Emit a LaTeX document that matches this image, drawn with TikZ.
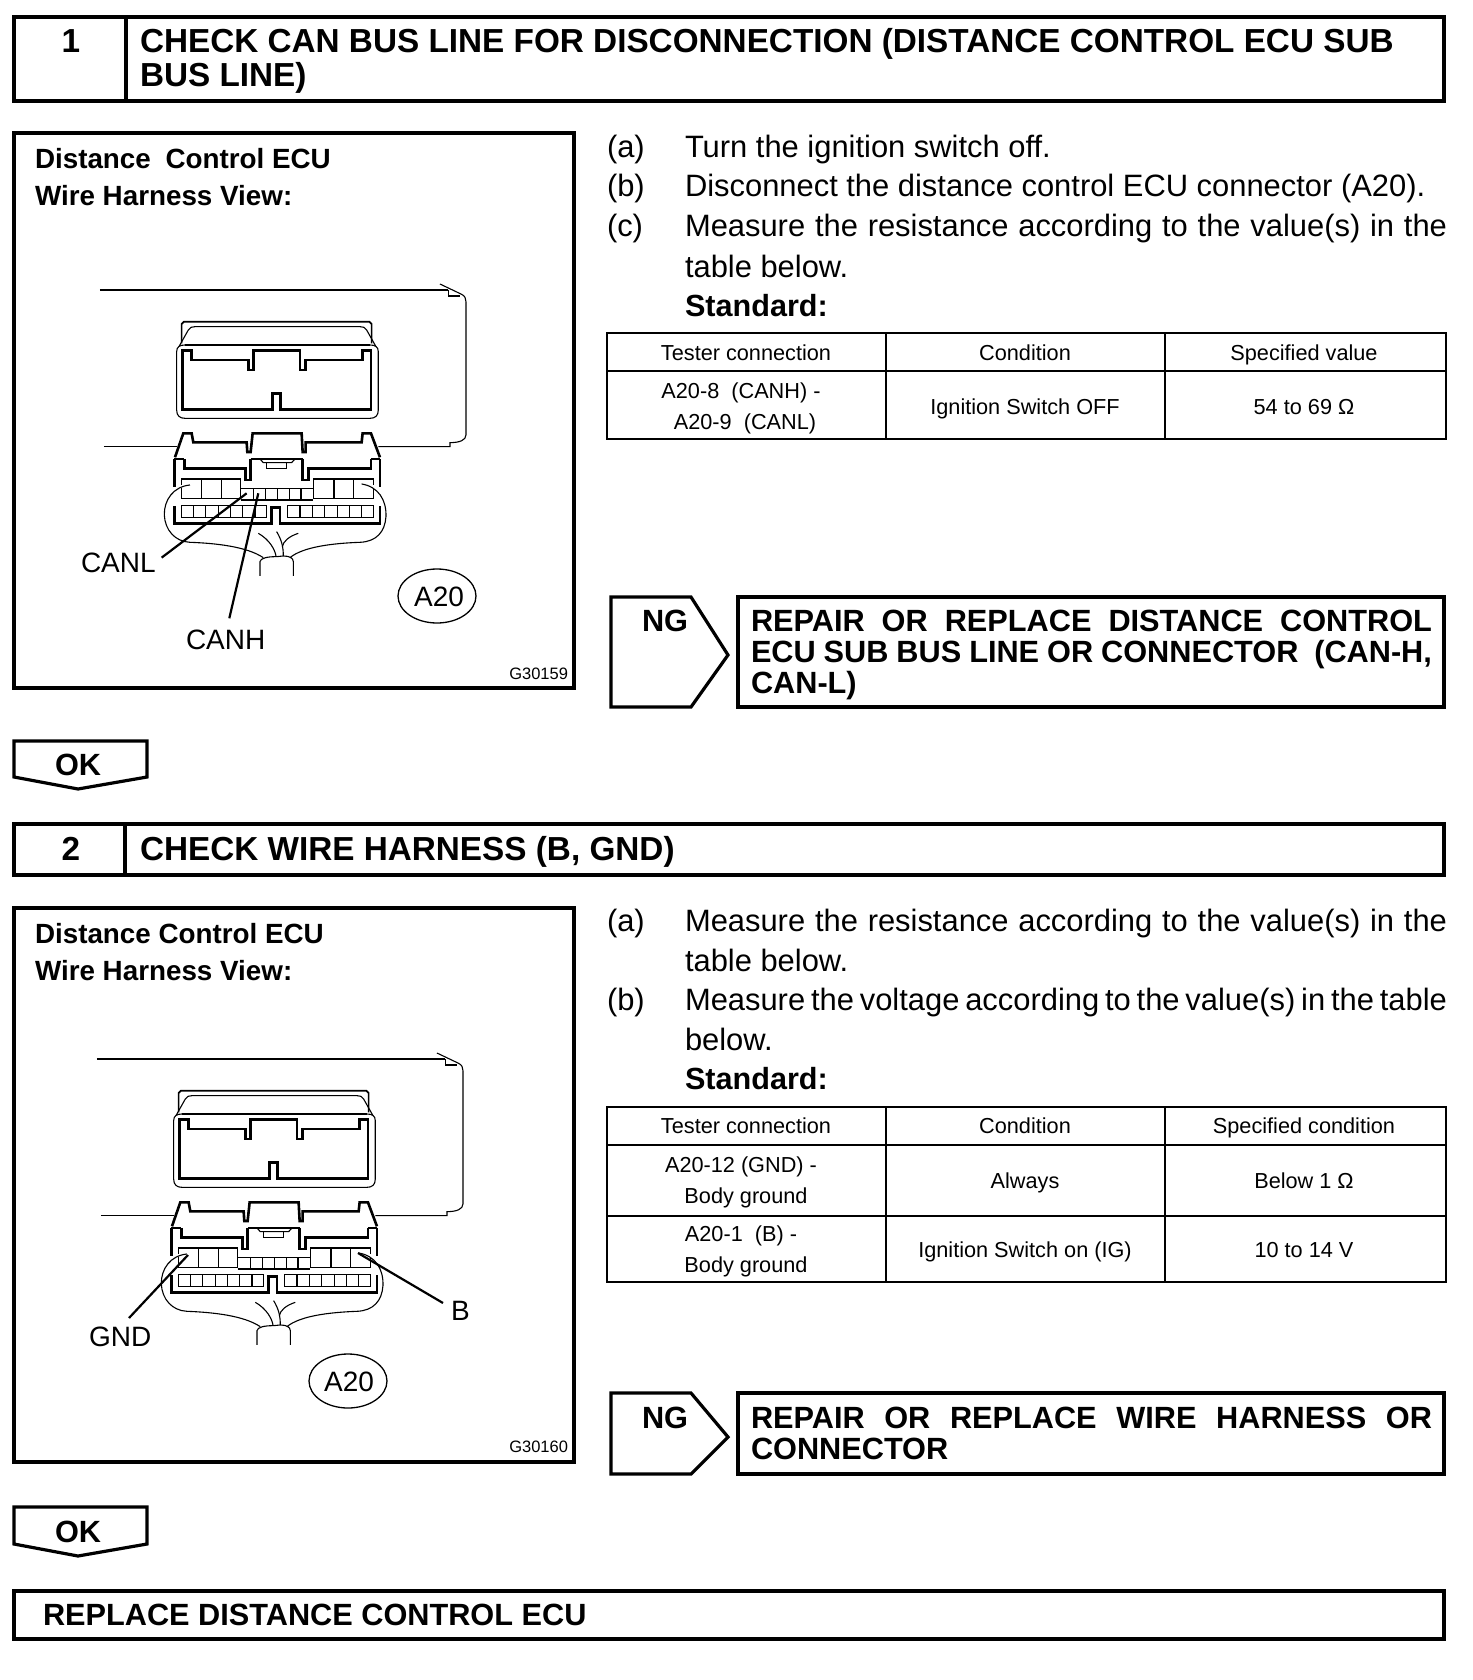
\documentclass[tikz,border=0pt]{standalone}
\usepackage{fontspec}
\usepackage{graphicx}
\setmainfont{Liberation Sans}
\newcommand\fitl[2]{\makebox[#1pt][s]{#2}}
\tikzset{
  base/.style={inner sep=0pt,outer sep=0pt,anchor=base west},
  hdr/.style={base,font=\bfseries\fontsize{33.3}{38}\selectfont},
  numb/.style={base,anchor=base,font=\bfseries\fontsize{33.3}{38}\selectfont},
  ttl/.style={base,font=\bfseries\fontsize{27.8}{32}\selectfont},
  body/.style={base,font=\fontsize{30.9}{36}\selectfont},
  stdh/.style={base,font=\bfseries\fontsize{30.6}{36}\selectfont},
  cell/.style={base,anchor=base,font=\fontsize{21.7}{26}\selectfont},
  res/.style={base,font=\bfseries\fontsize{30.7}{36}\selectfont},
  lab/.style={base,font=\fontsize{28}{34}\selectfont},
  tiny/.style={base,font=\fontsize{16.5}{18}\selectfont},
  frame/.style={draw=black,line width=3.2pt,line join=miter},
  tline/.style={draw=black,line width=2.7pt},
  thin/.style={draw=black,line width=1.1pt},
  thk/.style={draw=black,line width=2.6pt,line join=miter},
  leader/.style={draw=black,line width=2.2pt},
  tagell/.style={draw=black,line width=1.3pt,ellipse,minimum width=78pt,minimum height=54pt,inner sep=0pt}
}
\usetikzlibrary{shapes.geometric}
% connector drawn in the coordinates of a 3x enlargement
\newcommand\plugdrawing{%
  % harness outline
  \draw[thin] (300,90) -- (1345,90);
  \draw[thin] (1320,72) -- (1385,103) .. controls (1395,108) and (1398,115) .. (1398,125) -- (1398,525) .. controls (1398,540) and (1380,548) .. (1350,548) -- (1350,560) -- (1135,560);
  \draw[thin] (1345,90) -- (1345,108) -- (1380,108);
  \draw[thin,line width=1.4pt] (312,560) -- (530,560);
  % plug
  \draw[thin,line width=1.7pt] (545,250) -- (545,192) -- (552,185) -- (1108,185) -- (1115,192) -- (1115,250);
  \draw[thin] (538,258) -- (565,210) .. controls (570,202) and (575,200) .. (585,200) -- (1080,200) .. controls (1090,200) and (1095,202) .. (1100,210) -- (1127,258);
  \draw[thin] (530,275) .. controls (530,260) and (540,255) .. (555,255) -- (1110,255) .. controls (1125,255) and (1135,260) .. (1135,275) -- (1135,450) .. controls (1135,468) and (1125,475) .. (1110,475) -- (555,475) .. controls (540,475) and (530,468) .. (530,450) -- cycle;
  \draw[thin,line width=1.7pt] (555,255) -- (1110,255);
  \draw[thk] (548,272) -- (575,272) -- (575,300) -- (745,300) -- (745,330) -- (760,330) -- (760,272) -- (900,272) -- (900,330) -- (917,330) -- (917,300) -- (1087,300) -- (1087,272) -- (1113,272) -- (1113,448) -- (842,448) -- (842,400) -- (818,400) -- (818,448) -- (548,448) -- cycle;
  % housing
  \draw[thk] (525,592) -- (550,520) -- (575,520) -- (580,547) -- (740,547) -- (742,576) -- (752,576) -- (758,520) -- (905,520) -- (908,576) -- (917,576) -- (917,547) -- (1085,547) -- (1088,520) -- (1113,520) -- (1140,592);
  \draw[thk] (523,597) -- (523,680);
  \draw[thk] (1140,597) -- (1140,680);
  \draw[thk] (523,738) -- (523,790) -- (815,790) -- (815,742) -- (840,742) -- (840,790) -- (1140,790) -- (1140,738);
  \draw[thin] (523,597) -- (553,597);
  \draw[thk] (553,597) -- (553,625) -- (737,625) -- (737,660) -- (752,660) -- (752,597);
  \draw[thk] (908,597) -- (908,660) -- (925,660) -- (925,625) -- (1113,625) -- (1113,597);
  \draw[thin] (1113,597) -- (1140,597);
  \draw[thin] (752,597) -- (908,597);
  \draw[thin] (780,597) -- (790,608) -- (875,608) -- (885,597);
  \draw[thin] (800,608) -- (800,625) -- (860,625) -- (860,608);
  % upper cells
  \draw[thin] (545,675) -- (545,657) -- (722,657) -- (722,715) -- (545,715) -- (545,685);
  \draw[thin] (1120,675) -- (1120,657) -- (940,657) -- (940,715) -- (1120,715) -- (1120,685);
  \draw[thin,line width=1.6pt] (605,657) -- (605,715) (665,657) -- (665,715) (1002,657) -- (1002,715) (1060,657) -- (1060,715);
  \draw[thin] (722,685) -- (940,685) (722,720) -- (940,720);
  \foreach \cx in {760,797,832,868,903} {\draw[thin] (\cx,685) -- (\cx,720);}
  % lower cells
  \draw[thin,line width=1.4pt] (545,737) rectangle (800,773) (863,737) rectangle (1120,773);
  \foreach \cx in {580,617,655,692,728,765,900,937,973,1012,1048,1085} {\draw[thin] (\cx,737) -- (\cx,773);}
  % wires
  \draw[thin] (570,675) .. controls (520,680) and (492,720) .. (493,765) .. controls (495,810) and (525,845) .. (570,847) .. controls (650,850) and (740,860) .. (790,893);
  \draw[thin] (1085,672) .. controls (1135,680) and (1160,720) .. (1158,770) .. controls (1155,815) and (1130,845) .. (1080,847) .. controls (1000,850) and (910,860) .. (870,893);
  \draw[thin] (780,948) -- (780,905) .. controls (782,895) and (800,890) .. (830,890) -- (850,888) .. controls (870,888) and (880,895) .. (880,905) -- (880,948);
  \draw[thin] (775,820) .. controls (810,840) and (825,870) .. (828,888);
  \draw[thin] (830,815) .. controls (845,840) and (850,860) .. (850,888);
  \draw[thin] (895,820) .. controls (865,830) and (850,845) .. (847,860);
}
\begin{document}
\begin{tikzpicture}[x=1pt,y=-1pt]
\useasboundingbox (0,0) rectangle (1472,1680);
\fill[white] (0,0) rectangle (1472,1680);
% ---------- step 1 ----------
\draw[frame] (14,17) rectangle (1444,101);
\draw[frame] (126,17) -- (126,101);
\node[numb] (n1) at (71,53) {1};
\node[hdr] (h1a) at (140,53) {CHECK CAN BUS LINE FOR DISCONNECTION (DISTANCE CONTROL ECU SUB};
\node[hdr] (h1b) at (140,87) {BUS LINE)};
\draw[frame] (14,133) rectangle (574,688);
\node[ttl] (t1a) at (35,169) {Distance\hspace{0.25em} Control ECU};
\node[ttl] (t1b) at (35,206) {Wire Harness View:};
\begin{scope}[shift={(0,260)},x=0.3333pt,y=-0.3333pt]
\plugdrawing
\coordinate (canlA) at (485,893); \coordinate (canlB) at (740,700);
\coordinate (canhA) at (688,1075); \coordinate (canhB) at (775,700);
\end{scope}
\draw[leader] (canlA) -- (canlB);
\draw[leader] (canhA) -- (canhB);
\node[lab] (canl) at (81,572) {CANL};
\node[lab] (canh) at (186,649) {CANH};
\node[tagell] (tag1) at (437,596) {};
\node[lab,anchor=base] (tag1t) at (439,606) {A20};
\node[tiny,anchor=base east] (g1) at (568,679) {G30159};
% text
\node[body] (a1) at (607,158) {(a)};
\node[body] (a1t) at (685,158) {Turn the ignition switch off.};
\node[body] (b1) at (607,197) {(b)};
\node[body] (b1t) at (685,197) {Disconnect the distance control ECU connector (A20).};
\node[body] (c1) at (607,237) {(c)};
\node[body] (c1t) at (685,237) {\fitl{762}{Measure the resistance according to the value(s) in the}};
\node[body] (c1u) at (685,277) {table below.};
\node[stdh] (s1) at (685,316) {Standard:};
% table 1
\draw[tline] (607,333) rectangle (1446,439);
\draw[tline] (607,371) -- (1446,371);
\draw[tline] (886,333) -- (886,439) (1165,333) -- (1165,439);
\node[cell] (c11) at (746,360) {Tester connection};
\node[cell] (c12) at (1025,360) {Condition};
\node[cell] (c13) at (1304,360) {Specified value};
\node[cell] (c21) at (741,398) {A20-8\ \ (CANH) -};
\node[cell] (c21b) at (745,429) {A20-9\ \ (CANL)};
\node[cell] (c22) at (1025,414) {Ignition Switch OFF};
\node[cell] (c23) at (1304,414) {54 to 69 Ω};
% NG 1
\draw[frame] (611,597) -- (691,597) -- (728,655) -- (691,707) -- (611,707) -- cycle;
\node[res] (ng1) at (642,631) {NG};
\draw[frame] (738,597) rectangle (1444,707);
\node[res] (r1a) at (751,631) {\fitl{681}{REPAIR OR REPLACE DISTANCE CONTROL}};
\node[res] (r1b) at (751,662) {\fitl{681}{ECU SUB BUS LINE OR CONNECTOR\ \ (CAN-H,}};
\node[res] (r1c) at (751,693) {CAN-L)};
% OK 1
\draw[frame] (14,741) -- (147,741) -- (147,777) -- (78,789) -- (14,777) -- cycle;
\node[res] (ok1) at (55,775) {OK};
% ---------- step 2 ----------
\draw[frame] (14,824) rectangle (1444,875);
\draw[frame] (125,824) -- (125,875);
\node[numb] (n2) at (71,860) {2};
\node[hdr] (h2) at (140,860) {CHECK WIRE HARNESS (B, GND)};
\draw[frame] (14,908) rectangle (574,1462);
\node[ttl] (t2a) at (35,943) {Distance Control ECU};
\node[ttl] (t2b) at (35,980) {Wire Harness View:};
\begin{scope}[shift={(-3,1029)},x=0.3333pt,y=-0.3333pt]
\plugdrawing
\end{scope}
\coordinate (gndA) at (129,1318); \coordinate (gndB) at (188,1255);
\coordinate (bA) at (443,1303); \coordinate (bB) at (358,1253);
\draw[leader] (gndA) -- (gndB);
\draw[leader] (bA) -- (bB);
\node[lab] (gnd) at (89,1346) {GND};
\node[lab] (bl) at (451,1320) {B};
\node[tagell] (tag2) at (348,1381) {};
\node[lab,anchor=base] (tag2t) at (349,1391) {A20};
\node[tiny,anchor=base east] (g2) at (568,1452) {G30160};
\node[body] (a2) at (607,931) {(a)};
\node[body] (a2t) at (685,931) {\fitl{762}{Measure the resistance according to the value(s) in the}};
\node[body] (a2u) at (685,971) {table below.};
\node[body] (b2) at (607,1010) {(b)};
\node[body] (b2t) at (685,1010) {\fitl{762}{Measure the voltage according to the value(s) in the table}};
\node[body] (b2u) at (685,1050) {below.};
\node[stdh] (s2) at (685,1089) {Standard:};
% table 2
\draw[tline] (607,1107) rectangle (1446,1282);
\draw[tline] (607,1145) -- (1446,1145) (607,1216) -- (1446,1216);
\draw[tline] (886,1107) -- (886,1282) (1165,1107) -- (1165,1282);
\node[cell] (d11) at (746,1133) {Tester connection};
\node[cell] (d12) at (1025,1133) {Condition};
\node[cell] (d13) at (1304,1133) {Specified condition};
\node[cell] (d21) at (741,1172) {A20-12 (GND) -};
\node[cell] (d21b) at (746,1203) {Body ground};
\node[cell] (d22) at (1025,1188) {Always};
\node[cell] (d23) at (1304,1188) {Below 1 Ω};
\node[cell] (d31) at (741,1241) {A20-1\ \ (B) -};
\node[cell] (d31b) at (746,1272) {Body ground};
\node[cell] (d32) at (1025,1257) {Ignition Switch on (IG)};
\node[cell] (d33) at (1304,1257) {10 to 14 V};
% NG 2
\draw[frame] (611,1393) -- (691,1393) -- (728,1437) -- (691,1474) -- (611,1474) -- cycle;
\node[res] (ng2) at (642,1428) {NG};
\draw[frame] (738,1393) rectangle (1444,1474);
\node[res] (r2a) at (751,1428) {\fitl{681}{REPAIR OR REPLACE WIRE HARNESS OR}};
\node[res] (r2b) at (751,1459) {CONNECTOR};
% OK 2
\draw[frame] (14,1507) -- (147,1507) -- (147,1544) -- (78,1556) -- (14,1544) -- cycle;
\node[res] (ok2) at (55,1542) {OK};
% last box
\draw[frame] (14,1591) rectangle (1444,1639);
\node[res] (last) at (43,1625) {REPLACE DISTANCE CONTROL ECU};
\end{tikzpicture}
\end{document}
